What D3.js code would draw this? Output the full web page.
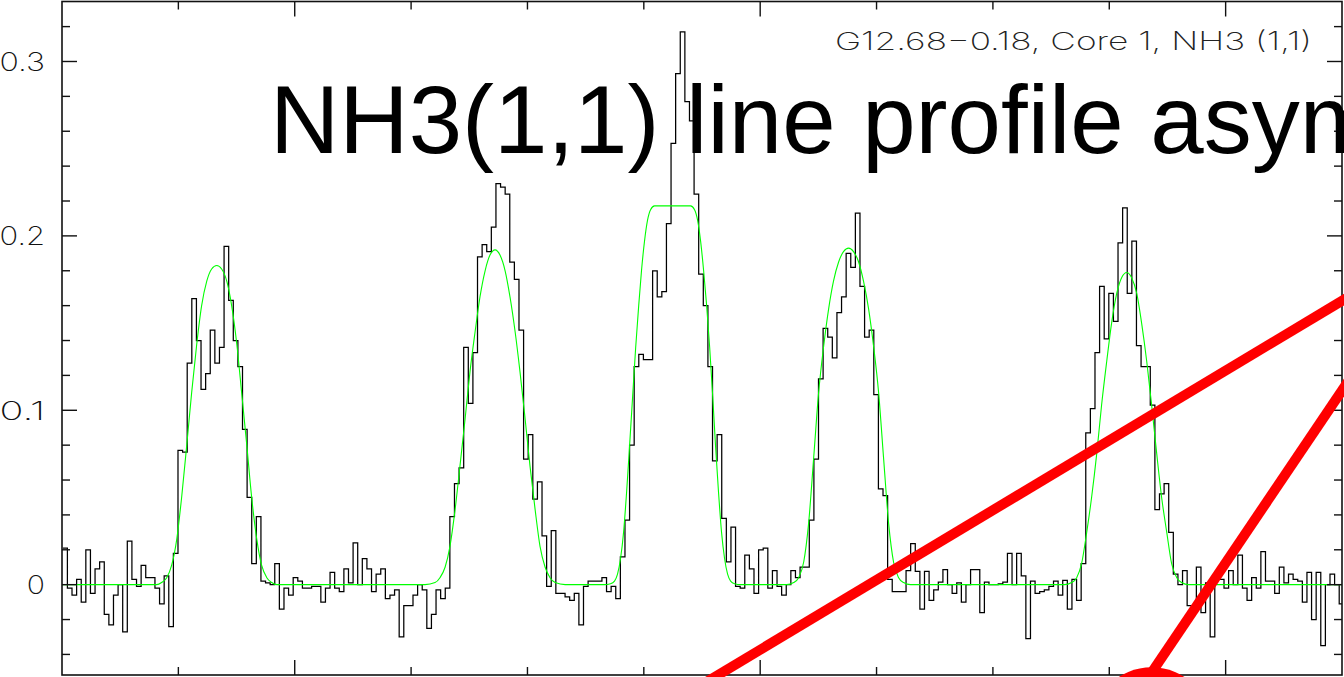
<!DOCTYPE html>
<html><head><meta charset="utf-8">
<script src="https://cdn.jsdelivr.net/npm/d3@7"></script>
<style>html,body{margin:0;padding:0;background:#fff;overflow:hidden}</style>
</head><body>
<svg id="chart" width="1344" height="677"></svg>
<script>
// ---- data ----
const velStart = 30.034;   // left edge of first channel (km/s)
const chanWidth = 0.198;   // channel width (km/s)
const tbValues = [
 0.021,-0.002,-0.006,0.003,-0.010,0.020,-0.005,0.009,0.013,-0.017,
 -0.023,-0.006,0.000,-0.027,0.025,0.003,-0.001,0.011,0.004,0.004,
 -0.002,-0.011,0.005,-0.024,0.018,0.077,0.076,0.127,0.164,0.140,
 0.112,0.121,0.146,0.127,0.136,0.194,0.163,0.140,0.125,0.089,
 0.050,0.012,0.039,0.002,0.001,0.000,0.012,-0.014,-0.002,-0.006,
 0.004,0.002,-0.002,-0.002,-0.001,-0.001,-0.010,-0.002,0.007,-0.002,
 -0.004,0.009,0.001,0.024,0.000,0.015,0.009,-0.004,0.006,0.009,
 -0.008,-0.006,-0.003,-0.030,-0.012,-0.012,-0.006,0.000,-0.003,-0.025,
 -0.017,-0.003,-0.008,-0.002,0.039,0.058,0.067,0.136,0.104,0.133,
 0.188,0.195,0.191,0.205,0.230,0.228,0.224,0.185,0.175,0.146,
 0.072,0.086,0.049,0.059,0.028,-0.001,0.031,-0.005,-0.005,-0.007,
 -0.009,-0.005,-0.023,-0.001,0.002,0.002,0.002,0.004,-0.004,-0.001,
 -0.008,0.016,0.037,0.080,0.125,0.132,0.129,0.129,0.180,0.165,
 0.168,0.207,0.253,0.293,0.317,0.277,0.266,0.224,0.178,0.160,
 0.125,0.071,0.086,0.038,0.013,0.033,-0.001,-0.002,0.017,0.009,
 -0.005,0.020,0.021,-0.002,0.008,-0.001,-0.006,0.000,0.008,0.004,
 0.010,0.010,0.037,0.072,0.118,0.147,0.142,0.130,0.156,0.165,
 0.190,0.182,0.213,0.171,0.142,0.146,0.109,0.055,0.051,0.003,
 -0.004,-0.004,-0.004,0.008,0.0235,0.0076,-0.014,0.0076,-0.009,-0.003,
 0.0015,0.0086,0.000,-0.005,0.001,-0.010,0.000,0.0086,0.0086,-0.016,
 0.0015,0.000,0.000,0.0005,0.0015,0.018,0.000,0.018,0.005,-0.031,
 0.002,-0.005,-0.004,-0.003,-0.001,0.002,-0.006,0.0025,-0.014,0.003,
 -0.009,0.012,0.087,0.101,0.133,0.171,0.141,0.167,0.151,0.196,
 0.216,0.167,0.197,0.137,0.125,0.125,0.103,0.043,0.052,0.058,
 0.030,0.006,0.000,0.008,-0.012,-0.012,0.010,-0.016,0.001,-0.030,
 0.003,0.003,-0.002,0.008,0.000,0.017,-0.002,-0.009,0.004,-0.002,
 0.019,0.002,0.002,-0.005,0.010,0.001,0.006,0.003,0.002,-0.010,
 0.007,-0.020,0.007,-0.035,0.000,0.006,0.000,-0.011
];
// fitted model curve: [velocity, value]
const fitPoints = [
 [30.0,0],
 [34.07,0],[34.28,0.0012],[34.50,0.004],[34.71,0.011],[34.93,0.026],[35.14,0.050],[35.36,0.080],[35.57,0.110],[35.79,0.138],[36.00,0.160],[36.22,0.174],[36.43,0.181],[36.65,0.183],[36.86,0.181],[37.08,0.174],[37.29,0.160],[37.51,0.138],[37.72,0.110],[37.94,0.080],[38.15,0.050],[38.37,0.026],[38.58,0.011],[38.80,0.004],[39.01,0.0012],[39.23,0],
 [45.60,0],[46.03,0.0012],[46.24,0.004],[46.46,0.010],[46.67,0.022],[46.89,0.043],[47.10,0.068],[47.32,0.095],[47.53,0.122],[47.75,0.145],[47.96,0.165],[48.18,0.180],[48.39,0.189],[48.61,0.192],[48.82,0.189],[49.04,0.180],[49.25,0.165],[49.47,0.145],[49.68,0.122],[49.90,0.095],[50.11,0.068],[50.33,0.043],[50.54,0.022],[50.76,0.010],[50.97,0.004],[51.19,0.0012],[51.62,0],
 [53.31,0],[53.57,0.0005],[53.74,0.002],[53.87,0.006],[54.00,0.015],[54.13,0.030],[54.26,0.053],[54.39,0.080],[54.52,0.108],[54.65,0.136],[54.78,0.160],[54.90,0.180],[55.03,0.197],[55.16,0.209],[55.29,0.215],[55.46,0.2172],[56.24,0.2172],[57.01,0.2172],[57.18,0.215],[57.31,0.209],[57.44,0.197],[57.57,0.180],[57.70,0.160],[57.83,0.136],[57.96,0.108],[58.08,0.080],[58.21,0.053],[58.34,0.030],[58.47,0.015],[58.60,0.006],[58.73,0.002],[58.90,0.0005],[59.16,0],
 [61.14,0],[61.44,0.0012],[61.65,0.004],[61.87,0.013],[62.08,0.035],[62.30,0.073],[62.51,0.110],[62.73,0.137],[62.94,0.158],[63.15,0.174],[63.37,0.185],[63.58,0.191],[63.80,0.193],[64.01,0.191],[64.23,0.185],[64.44,0.174],[64.66,0.158],[64.87,0.137],[65.09,0.110],[65.30,0.073],[65.52,0.035],[65.73,0.013],[65.95,0.004],[66.16,0.0012],[66.46,0],
 [73.08,0],[73.38,0.0012],[73.60,0.004],[73.81,0.012],[74.03,0.030],[74.24,0.050],[74.46,0.075],[74.67,0.103],[74.89,0.128],[75.10,0.150],[75.32,0.167],[75.53,0.176],[75.75,0.179],[75.96,0.176],[76.18,0.167],[76.39,0.150],[76.61,0.128],[76.82,0.103],[77.04,0.075],[77.25,0.050],[77.47,0.030],[77.68,0.012],[77.90,0.004],[78.11,0.0012],[78.41,0],
 [85.0,0]
];
const xDomain = [30, 85];
const yDomain = [-0.0518, 0.3344];
const xTicksMajor = [40, 60, 80];
const xTicksMinor = [35, 45, 50, 55, 65, 70, 75];
const yTicksMajor = [0, 0.1, 0.2, 0.3];
const yTickLabels = ["0", "0.1", "0.2", "0.3"];
const yTicksMinor = [-0.04,-0.02,0.02,0.04,0.06,0.08,0.12,0.14,0.16,0.18,0.22,0.24,0.26,0.28,0.32];
const titleText = "NH3(1,1) line profile asymmetry";
const subtitleText = "G12.68\u22120.18, Core 1, NH3 (1,1)";
// red hand-drawn annotation strokes, in data coordinates
const annotLines = [
  [[56.988, -0.06145], [87.499, 0.18279]],
  [[76.326, -0.0602], [87.499, 0.1608]]
];
const annotDot = [76.82, -0.0824];

// ---- drawing ----
const svg = d3.select("#chart");
const x = d3.scaleLinear().domain(xDomain).range([62, 1342]);
const y = d3.scaleLinear().domain(yDomain).range([675, 1.5]);
const X0 = x.range()[0], X1 = x.range()[1], Y0 = y.range()[1], Y1 = y.range()[0];

svg.append("defs").append("clipPath").attr("id","plotclip")
  .append("rect").attr("x",X0).attr("y",Y0).attr("width",X1-X0).attr("height",Y1-Y0);

const plot = svg.append("g").attr("clip-path","url(#plotclip)");

// spectrum as histogram steps
const stepPts = tbValues.map((v,i)=>[velStart + i*chanWidth, v]);
stepPts.push([velStart + tbValues.length*chanWidth, tbValues[tbValues.length-1]]);
plot.append("path")
  .attr("d", d3.line().x(d=>x(d[0])).y(d=>y(d[1])).curve(d3.curveStepAfter)(stepPts))
  .attr("fill","none").attr("stroke","#000").attr("stroke-width",1.25);

// fitted curve
plot.append("path")
  .attr("d", d3.line().x(d=>x(d[0])).y(d=>y(d[1])).curve(d3.curveMonotoneX)(fitPoints))
  .attr("fill","none").attr("stroke","#00ff00").attr("stroke-width",1.1);

// frame
const axisColor = "#111";
svg.append("rect").attr("x",X0).attr("y",Y0).attr("width",X1-X0).attr("height",Y1-Y0)
  .attr("fill","none").attr("stroke",axisColor).attr("stroke-width",1.6);

const tk = svg.append("g").attr("stroke",axisColor).attr("stroke-width",1.4);
const MAJ = 15, MIN = 8;
xTicksMajor.concat(xTicksMinor).forEach(v=>{
  const L = xTicksMajor.includes(v) ? MAJ : MIN;
  tk.append("line").attr("x1",x(v)).attr("x2",x(v)).attr("y1",Y1).attr("y2",Y1-L);
  tk.append("line").attr("x1",x(v)).attr("x2",x(v)).attr("y1",Y0).attr("y2",Y0+L);
});
yTicksMajor.concat(yTicksMinor).forEach(v=>{
  const L = yTicksMajor.includes(v) ? MAJ : MIN;
  tk.append("line").attr("y1",y(v)).attr("y2",y(v)).attr("x1",X0).attr("x2",X0+L);
  tk.append("line").attr("y1",y(v)).attr("y2",y(v)).attr("x1",X1).attr("x2",X1-L);
});

// tick labels (thin stroke font)
const thinFont = "Inter, Lato, 'DejaVu Sans', sans-serif";
function hersheyWidth(s){ let w=0; for(const c of s){ w += (c==="." ? 9.1 : 18.2); } return w; }
yTicksMajor.forEach((v,i)=>{
  svg.append("text").text(yTickLabels[i])
    .attr("x",45).attr("y",y(v)+9.5)
    .attr("text-anchor","end")
    .attr("font-family",thinFont).attr("font-weight",200).attr("font-size",26)
    .attr("textLength",hersheyWidth(yTickLabels[i])).attr("lengthAdjust","spacingAndGlyphs")
    .attr("fill","#111");
});

// subtitle
svg.append("text").text(subtitleText)
  .attr("x",835).attr("y",50)
  .attr("font-family",thinFont).attr("font-weight",200).attr("font-size",25)
  .attr("textLength",477).attr("lengthAdjust","spacingAndGlyphs")
  .attr("fill","#222");

// big title
svg.append("text").text(titleText)
  .attr("x",270).attr("y",152.7)
  .attr("font-family","'Liberation Sans', Arial, Helvetica, sans-serif")
  .attr("font-size",96).attr("fill","#000");

// red annotations
const ann = svg.append("g");
annotLines.forEach(seg=>{
  ann.append("line")
    .attr("x1",x(seg[0][0])).attr("y1",y(seg[0][1]))
    .attr("x2",x(seg[1][0])).attr("y2",y(seg[1][1]))
    .attr("stroke","#ff0000").attr("stroke-width",10);
});
ann.append("circle").attr("cx",x(annotDot[0])).attr("cy",y(annotDot[1])).attr("r",61).attr("fill","#ff0000");
</script>
</body></html>
